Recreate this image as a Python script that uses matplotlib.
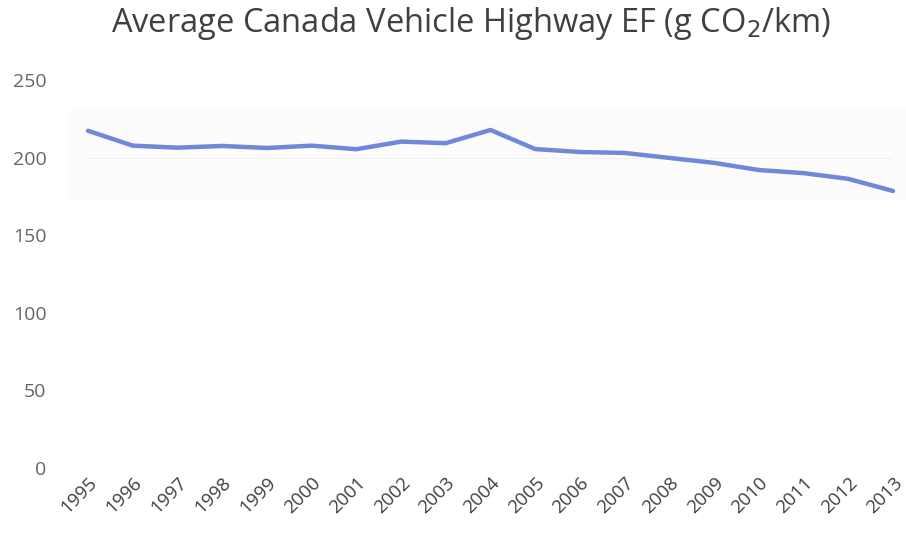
import matplotlib.pyplot as plt

years = ['1995', '1996', '1997', '1998', '1999', '2000', '2001', '2002', '2003', '2004',
         '2005', '2006', '2007', '2008', '2009', '2010', '2011', '2012', '2013']
ef = [217.3, 207.7, 206.4, 207.5, 206.2, 207.7, 205.4, 210.3, 209.3, 217.8,
      205.5, 203.6, 203.0, 199.8, 196.6, 192.0, 190.0, 186.3, 178.5]
yticks = [0, 50, 100, 150, 200, 250]

plt.rcParams['font.family'] = ['Open Sans', 'DejaVu Sans']

fig = plt.figure(figsize=(9.06, 5.37), dpi=100)
ax = fig.add_axes([88 / 906, 69 / 537, 805 / 906, 388 / 537])

x = list(range(len(years)))
# faint highlighted band behind the line (as in the source image)
ax.axhspan(172.7, 230.7, xmin=-0.025, xmax=1.02, color='#fcfcfc', zorder=0, clip_on=False)
ax.axhline(200, color='#f0f0f0', lw=0.8, zorder=1)
ax.plot(x, ef, color='#7088d8', lw=3.2, solid_capstyle='round', zorder=3, clip_on=False)

ax.set_xlim(0, len(years) - 1)
ax.set_ylim(0, 250)
ax.set_xticks(x)
ax.set_xticklabels(years, rotation=45, ha='right', rotation_mode='anchor',
                   fontsize=13.5, color='#404040')
ax.set_yticks(yticks)
ax.set_yticklabels([str(v) for v in yticks], fontsize=14, color='#666666')
ax.tick_params(length=0)
ax.tick_params(axis='y', pad=30)
ax.tick_params(axis='x', pad=4)
for s in ax.spines.values():
    s.set_visible(False)

fig.suptitle('Average Canada Vehicle Highway EF (g CO$_2$/km)', fontsize=23.5,
             color='#404040', y=0.99, x=0.52)

fig.savefig('out.png', dpi=100)
